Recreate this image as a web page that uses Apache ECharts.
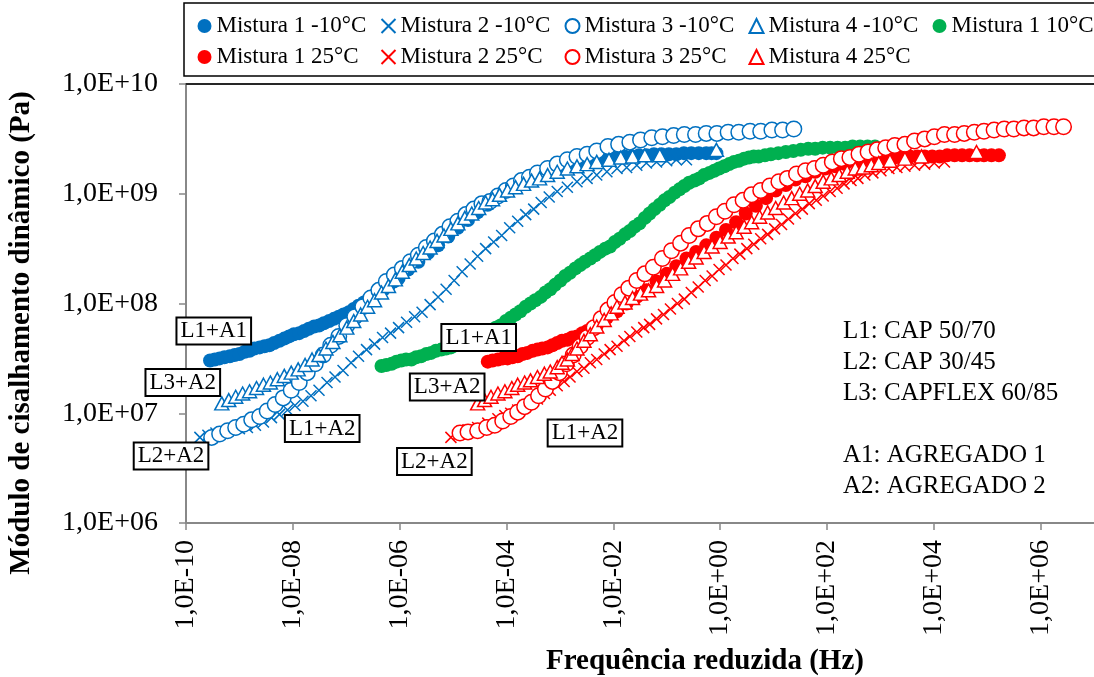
<!DOCTYPE html>
<html>
<head>
<meta charset="utf-8">
<script src="https://cdn.jsdelivr.net/npm/echarts@6/dist/echarts.min.js"></script>
<style>
  html, body { margin: 0; padding: 0; background: #fff; }
  #chart { width: 1094px; height: 677px; }
</style>
</head>
<body>
<div id="chart"></div>
<script>
// Master curves of |G*| versus reduced frequency.
// Each point is [log10(frequency in Hz), log10(|G*| in Pa)].

const mist1N10 = [[-9.55,7.48],[-9.46,7.49],[-9.37,7.50],[-9.28,7.51],[-9.18,7.52],[-9.09,7.53],[-9.00,7.54],[-8.90,7.56],[-8.81,7.57],[-8.72,7.59],[-8.62,7.60],[-8.53,7.61],[-8.44,7.62],[-8.35,7.64],[-8.25,7.66],[-8.16,7.68],[-8.07,7.70],[-7.98,7.72],[-7.88,7.73],[-7.79,7.75],[-7.70,7.77],[-7.60,7.79],[-7.51,7.80],[-7.42,7.82],[-7.32,7.84],[-7.23,7.86],[-7.14,7.88],[-7.05,7.90],[-6.95,7.92],[-6.86,7.95],[-6.77,7.98],[-6.67,8.01],[-6.58,8.03],[-6.49,8.07],[-6.39,8.10],[-6.30,8.13],[-6.21,8.16],[-6.11,8.20],[-6.02,8.23],[-5.84,8.31],[-5.65,8.38],[-5.47,8.46],[-5.28,8.53],[-5.09,8.61],[-4.91,8.69],[-4.72,8.76],[-4.54,8.83],[-4.35,8.90],[-4.16,8.97],[-3.98,9.03],[-3.79,9.09],[-3.61,9.14],[-3.42,9.19],[-3.23,9.23],[-3.05,9.25],[-2.91,9.27],[-2.77,9.28],[-2.63,9.30],[-2.49,9.31],[-2.35,9.32],[-2.21,9.33],[-2.07,9.34],[-1.93,9.34],[-1.79,9.34],[-1.65,9.34],[-1.52,9.35],[-1.38,9.35],[-1.24,9.36],[-1.10,9.36],[-0.96,9.36],[-0.82,9.36],[-0.68,9.37],[-0.54,9.37],[-0.40,9.37],[-0.26,9.37],[-0.16,9.37],[-0.07,9.37]];

const mist2N10 = [[-9.74,6.78],[-9.59,6.80],[-9.44,6.82],[-9.29,6.83],[-9.14,6.85],[-9.00,6.86],[-8.85,6.87],[-8.70,6.89],[-8.55,6.92],[-8.40,6.96],[-8.25,6.99],[-8.10,7.03],[-7.96,7.07],[-7.81,7.11],[-7.66,7.16],[-7.51,7.21],[-7.36,7.28],[-7.21,7.33],[-7.06,7.39],[-6.91,7.46],[-6.77,7.52],[-6.62,7.58],[-6.47,7.63],[-6.32,7.69],[-6.17,7.73],[-6.02,7.78],[-5.87,7.83],[-5.72,7.88],[-5.58,7.92],[-5.43,7.99],[-5.28,8.06],[-5.13,8.13],[-4.98,8.21],[-4.83,8.29],[-4.68,8.36],[-4.54,8.43],[-4.39,8.50],[-4.24,8.56],[-4.09,8.62],[-3.94,8.69],[-3.79,8.75],[-3.64,8.81],[-3.49,8.86],[-3.35,8.92],[-3.20,8.97],[-3.05,9.02],[-2.86,9.06],[-2.68,9.11],[-2.49,9.14],[-2.31,9.17],[-2.12,9.20],[-1.93,9.23],[-1.75,9.24],[-1.56,9.26],[-1.38,9.28],[-1.19,9.29],[-1.00,9.30],[-0.82,9.31],[-0.63,9.31]];

const mist3N10 = [[-9.52,6.78],[-9.37,6.81],[-9.22,6.84],[-9.07,6.87],[-8.92,6.90],[-8.77,6.94],[-8.62,6.97],[-8.48,7.02],[-8.33,7.08],[-8.18,7.14],[-8.03,7.21],[-7.88,7.28],[-7.73,7.37],[-7.58,7.45],[-7.43,7.53],[-7.29,7.62],[-7.14,7.70],[-6.99,7.80],[-6.84,7.88],[-6.69,7.97],[-6.54,8.05],[-6.39,8.12],[-6.25,8.20],[-6.10,8.26],[-5.95,8.32],[-5.80,8.38],[-5.65,8.44],[-5.50,8.51],[-5.35,8.57],[-5.20,8.63],[-5.06,8.70],[-4.91,8.75],[-4.76,8.81],[-4.61,8.86],[-4.46,8.91],[-4.31,8.93],[-4.16,8.98],[-4.01,9.03],[-3.87,9.07],[-3.72,9.12],[-3.57,9.15],[-3.42,9.19],[-3.23,9.23],[-3.05,9.27],[-2.86,9.31],[-2.68,9.34],[-2.49,9.36],[-2.31,9.39],[-2.10,9.43],[-1.90,9.45],[-1.69,9.47],[-1.49,9.49],[-1.28,9.51],[-1.08,9.52],[-0.87,9.53],[-0.67,9.54],[-0.46,9.54],[-0.26,9.55],[-0.06,9.55],[0.15,9.56],[0.35,9.56],[0.56,9.57],[0.76,9.57],[0.97,9.58],[1.17,9.58],[1.38,9.59]];

const mist4N10 = [[-9.33,7.09],[-9.20,7.12],[-9.07,7.15],[-8.94,7.18],[-8.81,7.20],[-8.68,7.23],[-8.55,7.26],[-8.42,7.28],[-8.29,7.31],[-8.16,7.34],[-8.03,7.37],[-7.90,7.40],[-7.77,7.44],[-7.64,7.49],[-7.51,7.53],[-7.38,7.59],[-7.25,7.65],[-7.12,7.71],[-6.99,7.78],[-6.86,7.84],[-6.73,7.90],[-6.60,7.97],[-6.47,8.03],[-6.34,8.10],[-6.21,8.16],[-6.08,8.22],[-5.95,8.29],[-5.82,8.35],[-5.69,8.41],[-5.56,8.46],[-5.43,8.51],[-5.30,8.57],[-5.17,8.62],[-5.04,8.68],[-4.91,8.73],[-4.78,8.78],[-4.65,8.82],[-4.52,8.87],[-4.39,8.92],[-4.26,8.95],[-4.13,8.99],[-3.98,9.03],[-3.83,9.06],[-3.68,9.09],[-3.53,9.12],[-3.38,9.14],[-3.23,9.17],[-3.05,9.20],[-2.86,9.23],[-2.68,9.25],[-2.49,9.27],[-2.31,9.29],[-2.08,9.31],[-1.86,9.33],[-1.64,9.34],[-1.41,9.35],[-1.13,9.35],[-0.07,9.40]];

const mist1P10 = [[-6.34,7.43],[-6.25,7.44],[-6.15,7.45],[-6.06,7.47],[-5.97,7.48],[-5.88,7.49],[-5.78,7.49],[-5.69,7.51],[-5.60,7.52],[-5.50,7.54],[-5.41,7.55],[-5.32,7.57],[-5.22,7.58],[-5.13,7.59],[-5.04,7.60],[-4.95,7.62],[-4.85,7.64],[-4.76,7.66],[-4.67,7.68],[-4.57,7.70],[-4.48,7.71],[-4.39,7.73],[-4.29,7.75],[-4.20,7.78],[-4.11,7.80],[-4.01,7.84],[-3.92,7.87],[-3.83,7.90],[-3.74,7.93],[-3.64,7.97],[-3.55,8.00],[-3.46,8.03],[-3.36,8.06],[-3.27,8.10],[-3.18,8.13],[-3.09,8.17],[-2.99,8.21],[-2.90,8.25],[-2.81,8.28],[-2.71,8.32],[-2.62,8.35],[-2.53,8.38],[-2.43,8.41],[-2.34,8.44],[-2.25,8.47],[-2.15,8.50],[-2.06,8.52],[-1.97,8.56],[-1.88,8.59],[-1.78,8.63],[-1.69,8.66],[-1.60,8.70],[-1.51,8.73],[-1.41,8.78],[-1.32,8.82],[-1.23,8.86],[-1.13,8.90],[-1.04,8.94],[-0.95,8.97],[-0.85,9.01],[-0.76,9.04],[-0.67,9.07],[-0.58,9.10],[-0.48,9.12],[-0.39,9.14],[-0.30,9.17],[-0.20,9.19],[-0.11,9.21],[-0.02,9.23],[0.08,9.25],[0.17,9.27],[0.26,9.29],[0.35,9.30],[0.45,9.32],[0.54,9.33],[0.63,9.34],[0.72,9.34],[0.84,9.35],[0.95,9.36],[1.09,9.37],[1.23,9.38],[1.37,9.39],[1.51,9.40],[1.65,9.41],[1.78,9.41],[1.92,9.42],[2.06,9.42],[2.20,9.42],[2.34,9.42],[2.48,9.43],[2.62,9.43],[2.76,9.43],[2.90,9.43]];

const mist1P25 = [[-4.35,7.47],[-4.26,7.48],[-4.16,7.49],[-4.07,7.50],[-3.98,7.50],[-3.89,7.51],[-3.79,7.52],[-3.70,7.54],[-3.61,7.55],[-3.51,7.57],[-3.42,7.58],[-3.33,7.59],[-3.23,7.60],[-3.14,7.62],[-3.05,7.64],[-2.96,7.66],[-2.86,7.67],[-2.77,7.69],[-2.68,7.70],[-2.58,7.73],[-2.49,7.75],[-2.40,7.78],[-2.31,7.80],[-2.12,7.87],[-1.93,7.93],[-1.75,8.00],[-1.56,8.06],[-1.38,8.12],[-1.19,8.20],[-1.00,8.27],[-0.82,8.34],[-0.63,8.41],[-0.45,8.47],[-0.26,8.53],[-0.07,8.60],[0.11,8.67],[0.30,8.74],[0.48,8.82],[0.67,8.89],[0.86,8.96],[1.04,9.03],[1.23,9.08],[1.41,9.13],[1.60,9.16],[1.78,9.20],[1.97,9.23],[2.16,9.25],[2.34,9.27],[2.53,9.29],[2.71,9.30],[2.90,9.31],[3.09,9.32],[3.27,9.33],[3.41,9.34],[3.55,9.34],[3.69,9.34],[3.83,9.34],[3.97,9.34],[4.11,9.34],[4.25,9.35],[4.39,9.35],[4.53,9.35],[4.67,9.35],[4.81,9.35],[4.94,9.35],[5.08,9.35],[5.22,9.35]];

const mist2P25 = [[-5.04,6.78],[-4.89,6.81],[-4.72,6.85],[-4.54,6.87],[-4.35,6.91],[-4.16,6.95],[-4.03,6.98],[-3.92,7.00],[-3.79,7.03],[-3.66,7.07],[-3.55,7.09],[-3.42,7.13],[-3.29,7.18],[-3.18,7.21],[-3.05,7.25],[-2.92,7.29],[-2.81,7.33],[-2.68,7.38],[-2.55,7.41],[-2.43,7.46],[-2.31,7.49],[-2.17,7.54],[-2.06,7.58],[-1.93,7.61],[-1.80,7.66],[-1.69,7.70],[-1.56,7.74],[-1.43,7.78],[-1.32,7.81],[-1.19,7.86],[-1.06,7.90],[-0.93,7.95],[-0.80,8.00],[-0.67,8.04],[-0.54,8.10],[-0.41,8.15],[-0.28,8.21],[-0.15,8.25],[-0.02,8.31],[0.11,8.35],[0.24,8.41],[0.37,8.45],[0.50,8.50],[0.63,8.54],[0.76,8.59],[0.89,8.63],[1.02,8.68],[1.15,8.72],[1.28,8.77],[1.41,8.82],[1.54,8.86],[1.67,8.91],[1.80,8.94],[1.93,8.98],[2.06,9.02],[2.19,9.05],[2.32,9.09],[2.45,9.12],[2.58,9.14],[2.71,9.17],[2.86,9.19],[3.01,9.21],[3.16,9.23],[3.31,9.24],[3.46,9.25],[3.64,9.26],[3.83,9.27],[4.01,9.28],[4.20,9.29]];

const mist3P25 = [[-4.87,6.82],[-4.72,6.83],[-4.54,6.84],[-4.37,6.87],[-4.22,6.89],[-4.07,6.93],[-3.92,6.97],[-3.79,7.01],[-3.66,7.06],[-3.53,7.10],[-3.40,7.16],[-3.27,7.22],[-3.14,7.29],[-3.01,7.37],[-2.88,7.45],[-2.75,7.53],[-2.62,7.61],[-2.49,7.69],[-2.36,7.78],[-2.23,7.86],[-2.10,7.94],[-1.97,8.01],[-1.84,8.08],[-1.71,8.14],[-1.56,8.21],[-1.41,8.27],[-1.25,8.33],[-1.08,8.41],[-0.91,8.48],[-0.74,8.55],[-0.58,8.62],[-0.41,8.68],[-0.24,8.73],[-0.07,8.79],[0.09,8.84],[0.26,8.90],[0.43,8.94],[0.59,8.99],[0.76,9.03],[0.93,9.07],[1.10,9.11],[1.26,9.14],[1.43,9.18],[1.60,9.21],[1.77,9.23],[1.93,9.26],[2.10,9.29],[2.27,9.32],[2.43,9.33],[2.60,9.36],[2.77,9.38],[2.94,9.40],[3.10,9.42],[3.27,9.44],[3.46,9.45],[3.64,9.48],[3.83,9.50],[4.01,9.52],[4.20,9.54],[4.39,9.54],[4.57,9.55],[4.76,9.56],[4.94,9.57],[5.13,9.58],[5.32,9.59],[5.50,9.59],[5.69,9.60],[5.87,9.60],[6.06,9.61],[6.25,9.61],[6.43,9.61]];

const mist4P25 = [[-4.54,7.09],[-4.41,7.12],[-4.29,7.15],[-4.16,7.18],[-4.03,7.20],[-3.90,7.23],[-3.79,7.26],[-3.66,7.28],[-3.55,7.30],[-3.42,7.33],[-3.29,7.36],[-3.18,7.38],[-3.05,7.42],[-2.96,7.46],[-2.86,7.49],[-2.77,7.54],[-2.68,7.59],[-2.55,7.66],[-2.43,7.72],[-2.31,7.79],[-2.17,7.85],[-2.04,7.91],[-1.93,7.97],[-1.78,8.01],[-1.64,8.05],[-1.49,8.09],[-1.34,8.12],[-1.19,8.16],[-1.04,8.21],[-0.89,8.27],[-0.74,8.32],[-0.59,8.38],[-0.45,8.42],[-0.30,8.47],[-0.15,8.52],[0.00,8.56],[0.15,8.61],[0.30,8.65],[0.45,8.70],[0.59,8.74],[0.74,8.79],[0.89,8.83],[1.04,8.87],[1.19,8.92],[1.34,8.96],[1.49,9.00],[1.64,9.03],[1.78,9.07],[1.93,9.11],[2.08,9.14],[2.23,9.17],[2.38,9.20],[2.53,9.23],[2.68,9.24],[2.83,9.26],[2.97,9.28],[3.18,9.30],[3.46,9.32],[3.77,9.34],[4.80,9.38]];

// Boxed annotations: [log10 f, log10 G, text]
const boxNotes = [
  [-9.48, 7.75, 'L1+A1'], [-10.06, 7.28, 'L3+A2'], [-10.28, 6.61, 'L2+A2'], [-7.45, 6.86, 'L1+A2'],
  [-4.52, 7.69, 'L1+A1'], [-5.11, 7.24, 'L3+A2'], [-5.35, 6.56, 'L2+A2'], [-2.53, 6.82, 'L1+A2']
];

const keyLines = ['L1: CAP 50/70', 'L2: CAP 30/45', 'L3: CAPFLEX 60/85', '', 'A1: AGREGADO 1', 'A2: AGREGADO 2'];

const BLUE = '#0070C0', RED = '#FF0000', GREEN = '#00B050';
const FONT = "'Liberation Serif', 'Times New Roman', serif";
const CROSS = 'path://M0,0L10,10M10,0L0,10';

function expLabel(v) {
  if (Math.abs(v - Math.round(v)) > 1e-6) return '';
  const r = Math.round(v);
  return '1,0E' + (r < 0 ? '-' : '+') + String(Math.abs(r)).padStart(2, '0');
}

function filled(name, data, color) {
  return { name, type: 'scatter', data, symbol: 'circle', symbolSize: 14,
    itemStyle: { color, opacity: 1 } };
}
function ring(name, data, color) {
  return { name, type: 'scatter', data, symbol: 'circle', symbolSize: 15.5,
    itemStyle: { color: '#fff', borderColor: color, borderWidth: 1.5, opacity: 1 } };
}
function tri(name, data, color) {
  return { name, type: 'scatter', data, symbol: 'triangle', symbolSize: [14, 13],
    itemStyle: { color: '#fff', borderColor: color, borderWidth: 1.5, opacity: 1 } };
}
function cross(name, data, color) {
  return { name, type: 'scatter', data, symbol: CROSS, symbolSize: 11,
    itemStyle: { color: 'rgba(0,0,0,0)', borderColor: color, borderWidth: 1.5, opacity: 1 } };
}

const seriesList = [
  filled('Mistura 1 -10°C', mist1N10, BLUE),
  cross('Mistura 2 -10°C', mist2N10, BLUE),
  ring('Mistura 3 -10°C', mist3N10, BLUE),
  tri('Mistura 4 -10°C', mist4N10, BLUE),
  filled('Mistura 1 10°C', mist1P10, GREEN),
  filled('Mistura 1 25°C', mist1P25, RED),
  cross('Mistura 2 25°C', mist2P25, RED),
  ring('Mistura 3 25°C', mist3P25, RED),
  tri('Mistura 4 25°C', mist4P25, RED)
];
seriesList.forEach(s => { s.animation = false; s.clip = true; s.emphasis = { disabled: true }; });

// Boxed curve annotations, placed in data coordinates
seriesList.push({
  name: 'notes', type: 'scatter', z: 10, clip: false, silent: true, animation: false,
  symbol: 'circle', symbolSize: 0, itemStyle: { color: '#fff', opacity: 1 },
  emphasis: { disabled: true },
  data: boxNotes.map(n => ({ value: [n[0], n[1]], name: n[2] })),
  label: {
    show: true, position: 'inside', formatter: '{b}', color: '#000', opacity: 1,
    textBorderWidth: 0, fontFamily: FONT, fontSize: 23, lineHeight: 24,
    backgroundColor: '#fff', borderColor: '#000', borderWidth: 2, padding: [1, 3, 0, 3]
  }
});

const chart = echarts.init(document.getElementById('chart'), null, { renderer: 'canvas' });
chart.setOption({
  backgroundColor: '#fff',
  animation: false,
  grid: { left: 186, right: -7, top: 84, bottom: 154, containLabel: false },
  legend: {
    data: seriesList.slice(0, 9).map(s => s.name),
    left: 184, top: 3, width: 940,
    orient: 'horizontal',
    itemWidth: 14, itemHeight: 14, itemGap: 2,
    padding: [8.5, 10, 4.5, 13.5],
    borderColor: '#000', borderWidth: 1.5, backgroundColor: '#fff',
    selectedMode: false,
    textStyle: { fontFamily: FONT, fontSize: 23, color: '#000', width: 162, lineHeight: 29 }
  },
  xAxis: [{
    type: 'value', min: -10, max: 7, interval: 2,
    axisLine: { show: true, onZero: false, lineStyle: { color: '#888', width: 2 } },
    axisTick: { show: true, length: 7, lineStyle: { color: '#888', width: 1.5 } },
    splitLine: { show: false },
    axisLabel: { rotate: 90, margin: 17, fontFamily: FONT, fontSize: 28, color: '#000',
      showMaxLabel: false, formatter: expLabel }
  }, {
    type: 'value', position: 'top', min: -10, max: 7,
    axisLine: { show: true, onZero: false, lineStyle: { color: '#262626', width: 2 } },
    axisTick: { show: false }, axisLabel: { show: false }, splitLine: { show: false }
  }],
  yAxis: {
    type: 'value', min: 6, max: 10, interval: 1,
    axisLine: { show: true, onZero: false, lineStyle: { color: '#888', width: 2 } },
    axisTick: { show: true, length: 7, lineStyle: { color: '#888', width: 1.5 } },
    splitLine: { show: false },
    axisLabel: { margin: 28, fontFamily: FONT, fontSize: 28, color: '#000', formatter: expLabel }
  },
  graphic: [
    { type: 'text', x: 22, y: 333, rotation: Math.PI / 2, silent: true,
      style: { text: 'Módulo de cisalhamento dinâmico (Pa)', fontFamily: FONT, fontSize: 29,
        fontWeight: 'bold', fill: '#000', align: 'center', verticalAlign: 'middle' } },
    { type: 'text', x: 705, y: 662, silent: true,
      style: { text: 'Frequência reduzida (Hz)', fontFamily: FONT, fontSize: 29,
        fontWeight: 'bold', fill: '#000', align: 'center', verticalAlign: 'middle' } },
    { type: 'text', x: 843, y: 316, silent: true,
      style: { text: keyLines.join('\n'), fontFamily: FONT, fontSize: 25, lineHeight: 31,
        fill: '#000', align: 'left', verticalAlign: 'top' } }
  ],
  series: seriesList
});
</script>
</body>
</html>
